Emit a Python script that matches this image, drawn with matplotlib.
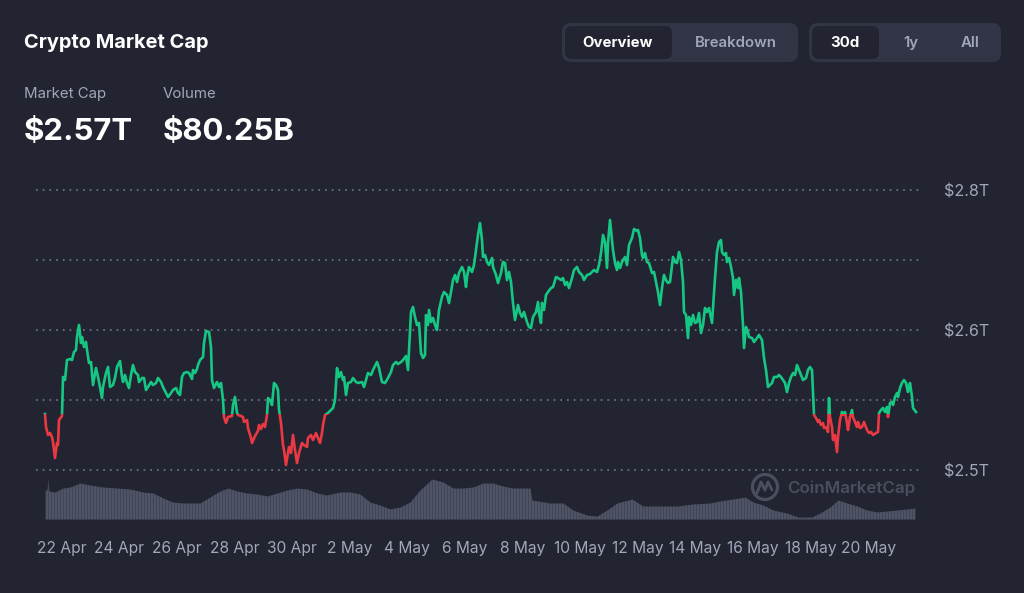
import numpy as np
import matplotlib
matplotlib.use("Agg")
import matplotlib.pyplot as plt
import matplotlib.dates as mdates
from matplotlib.patches import Rectangle, FancyBboxPatch, Arc

plt.rcParams['font.family'] = ['Inter', 'DejaVu Sans']

# ---------------- data ----------------
series_start = np.datetime64('2024-04-21T10:00')

# minutes elapsed since series_start, and total market cap (billions USD)
elapsed_min = [
    0, 50, 150, 250, 350, 400, 500, 600, 650, 700, 850, 900, 1000, 1100, 1250, 1350, 1450, 1550, 1600, 1700,
    1800, 1850, 1950, 2050, 2100, 2200, 2300, 2400, 2550, 2650, 2750, 2850, 2900, 3050, 3150, 3250, 3400, 3500, 3600, 3750,
    3850, 3900, 4000, 4100, 4200, 4300, 4400, 4500, 4650, 4700, 4850, 4950, 5050, 5150, 5300, 5400, 5550, 5650, 5800, 5900,
    6050, 6150, 6300, 6400, 6550, 6650, 6750, 6850, 6950, 7100, 7200, 7250, 7350, 7400, 7500, 7600, 7650, 7750, 7900, 7950,
    8050, 8200, 8300, 8350, 8450, 8600, 8700, 8800, 8900, 8950, 9050, 9150, 9350, 9400, 9500, 9600, 9650, 9800, 9900, 9950,
    10100, 10150, 10300, 10350, 10500, 10650, 10700, 10800, 10900, 11000, 11100, 11150, 11250, 11350, 11450, 11550, 11650, 11700, 11800, 11900,
    11950, 12050, 12150, 12200, 12300, 12400, 12500, 12600, 12700, 12850, 12950, 13100, 13150, 13300, 13400, 13550, 13650, 13750, 13850, 13900,
    14000, 14150, 14250, 14400, 14500, 14600, 14700, 14800, 14900, 14950, 15050, 15150, 15300, 15400, 15550, 15650, 15850, 15950, 16050, 16150,
    16300, 16400, 16600, 16700, 16850, 17000, 17150, 17300, 17400, 17550, 17650, 17800, 17900, 18050, 18150, 18200, 18300, 18400, 18500, 18600,
    18700, 18800, 18900, 19000, 19050, 19150, 19200, 19300, 19400, 19500, 19600, 19700, 19850, 19950, 20100, 20200, 20300, 20400, 20500, 20600,
    20700, 20850, 20950, 21050, 21100, 21200, 21350, 21450, 21550, 21650, 21750, 21850, 21900, 22000, 22100, 22200, 22350, 22400, 22550, 22650,
    22800, 22900, 23000, 23100, 23200, 23300, 23400, 23500, 23650, 23750, 23850, 23950, 24100, 24200, 24300, 24400, 24550, 24650, 24700, 24800,
    24850, 24950, 25050, 25150, 25300, 25400, 25550, 25650, 25800, 25900, 26000, 26100, 26200, 26350, 26450, 26600, 26700, 26850, 26950, 27100,
    27250, 27350, 27450, 27600, 27700, 27800, 27900, 28000, 28100, 28150, 28250, 28350, 28400, 28500, 28600, 28650, 28750, 28850, 29000, 29100,
    29200, 29350, 29450, 29600, 29650, 29750, 29850, 29900, 30000, 30100, 30200, 30350, 30450, 30550, 30650, 30750, 30850, 30950, 31050, 31150,
    31250, 31350, 31400, 31500, 31600, 31700, 31800, 31900, 31950, 32050, 32150, 32200, 32300, 32400, 32500, 32600, 32700, 32800, 32900, 33000,
    33100, 33200, 33350, 33400, 33500, 33600, 33700, 33800, 33850, 33950, 34050, 34100, 34200, 34300, 34400, 34450, 34550, 34650, 34700, 34800,
    34900, 34950, 35050, 35150, 35200, 35350, 35450, 35600, 35700, 35850, 35950, 36050, 36150, 36250, 36350, 36450, 36600, 36700, 36800, 36900,
    37000, 37100, 37200, 37300, 37400, 37500, 37600, 37700, 37800, 37900, 38050, 38150, 38250, 38350, 38400, 38450, 38550, 38650, 38700, 38800,
    38900, 38950, 39050, 39150, 39200, 39250, 39350, 39400, 39500, 39600, 39650, 39750, 39850, 39900, 40000, 40100, 40150, 40250, 40350, 40400,
    40500, 40600, 40650, 40750, 40850, 40950, 41100, 41200, 41300, 41400, 41550, 41650, 41700, 41800, 41900, 42000, 42100, 42150, 42250, 42350,
    42400, 42500, 42600, 42650, 42750, 42850, 42950, 43050, 43150, 43200, 43250, 43350, 43400, 43550,
]
market_cap_b = [
    2556, 2543, 2535, 2537, 2533, 2528, 2512, 2527, 2525, 2550, 2554, 2593, 2590, 2610, 2611, 2610, 2618, 2620, 2633, 2645,
    2627, 2633, 2623, 2628, 2620, 2607, 2608, 2585, 2602, 2593, 2583, 2572, 2583, 2597, 2603, 2583, 2585, 2592, 2603, 2609,
    2593, 2588, 2595, 2587, 2582, 2595, 2605, 2598, 2595, 2588, 2592, 2592, 2580, 2583, 2588, 2585, 2587, 2592, 2588, 2583,
    2577, 2573, 2577, 2580, 2582, 2577, 2575, 2593, 2597, 2598, 2597, 2595, 2591, 2600, 2597, 2601, 2605, 2610, 2613, 2627,
    2639, 2638, 2623, 2590, 2582, 2588, 2583, 2587, 2570, 2553, 2547, 2553, 2554, 2565, 2573, 2557, 2555, 2554, 2553, 2548,
    2550, 2542, 2532, 2527, 2534, 2539, 2545, 2541, 2546, 2543, 2555, 2572, 2570, 2565, 2587, 2585, 2580, 2560, 2547, 2525,
    2520, 2505, 2517, 2523, 2517, 2535, 2520, 2507, 2517, 2527, 2525, 2523, 2532, 2535, 2530, 2537, 2532, 2527, 2537, 2545,
    2555, 2557, 2559, 2562, 2570, 2602, 2593, 2598, 2590, 2593, 2575, 2587, 2588, 2592, 2588, 2587, 2588, 2583, 2590, 2597,
    2595, 2600, 2608, 2602, 2588, 2587, 2592, 2598, 2605, 2608, 2606, 2608, 2610, 2614, 2600, 2620, 2658, 2663, 2653, 2645,
    2647, 2617, 2612, 2615, 2655, 2645, 2660, 2648, 2652, 2645, 2640, 2660, 2673, 2678, 2675, 2667, 2678, 2690, 2695, 2688,
    2697, 2703, 2698, 2683, 2693, 2703, 2698, 2705, 2720, 2735, 2747, 2730, 2713, 2715, 2708, 2705, 2712, 2703, 2695, 2687,
    2697, 2708, 2707, 2690, 2698, 2688, 2667, 2650, 2665, 2657, 2653, 2658, 2648, 2643, 2642, 2653, 2658, 2668, 2657, 2647,
    2667, 2660, 2675, 2678, 2682, 2683, 2693, 2692, 2690, 2692, 2685, 2688, 2682, 2692, 2700, 2703, 2698, 2695, 2690, 2695,
    2696, 2698, 2700, 2698, 2705, 2717, 2735, 2728, 2702, 2727, 2750, 2730, 2720, 2707, 2700, 2708, 2702, 2708, 2713, 2705,
    2725, 2732, 2741, 2739, 2740, 2732, 2715, 2712, 2717, 2708, 2707, 2697, 2698, 2688, 2678, 2665, 2682, 2695, 2690, 2687,
    2688, 2705, 2713, 2708, 2707, 2718, 2710, 2688, 2658, 2655, 2632, 2653, 2645, 2655, 2647, 2648, 2657, 2637, 2645, 2662,
    2658, 2662, 2647, 2662, 2692, 2718, 2728, 2730, 2718, 2715, 2717, 2708, 2712, 2703, 2692, 2675, 2690, 2682, 2692, 2678,
    2645, 2622, 2643, 2638, 2633, 2632, 2628, 2632, 2635, 2630, 2612, 2600, 2583, 2585, 2587, 2593, 2593, 2595, 2593, 2590,
    2587, 2578, 2587, 2593, 2597, 2595, 2605, 2600, 2595, 2590, 2592, 2600, 2603, 2600, 2577, 2555, 2552, 2548, 2550, 2545,
    2547, 2542, 2543, 2538, 2572, 2553, 2543, 2530, 2535, 2518, 2533, 2550, 2558, 2555, 2558, 2547, 2540, 2553, 2560, 2553,
    2548, 2543, 2548, 2542, 2543, 2548, 2540, 2537, 2538, 2535, 2537, 2538, 2557, 2560, 2562, 2558, 2563, 2553, 2567, 2568,
    2565, 2573, 2577, 2573, 2582, 2587, 2590, 2587, 2578, 2583, 2587, 2573, 2562, 2558,
]

# 24h volume profile (billions USD), sampled at these elapsed minutes
volume_min = [
    0, 100, 150, 200, 500, 900, 1250, 1750, 2250, 2900, 3600, 4250, 4900, 5400, 5900, 6400, 6900, 7750, 8250, 8750,
    9150, 9600, 10100, 10600, 11100, 11600, 12100, 12600, 13100, 13600, 14100, 14750, 15250, 15750, 16250, 16750, 17250, 17750, 18250, 18750,
    19350, 19900, 20400, 20900, 21400, 21900, 22400, 22900, 23400, 24250, 24350, 25250, 25900, 26400, 27100, 27600, 28100, 28600, 29350, 29900,
    30750, 31600, 32400, 33250, 33750, 34400, 35000, 35400, 35900, 36400, 37100, 37650, 38350, 38750, 39250, 39650, 40100, 40600, 41100, 41600,
    42100, 42600, 43100, 43500,
]
volume_b = [
    58, 58, 82, 56, 54, 62, 64, 72, 68, 64, 62, 60, 54, 52, 42, 34, 32, 32, 44, 56,
    62, 56, 52, 50, 46, 52, 58, 62, 60, 52, 48, 54, 54, 50, 34, 28, 20, 24, 34, 58,
    80, 74, 62, 62, 64, 72, 72, 66, 62, 62, 38, 32, 32, 18, 8, 6, 18, 32, 40, 26,
    26, 26, 30, 32, 36, 40, 44, 34, 28, 18, 12, 4, 4, 12, 24, 38, 32, 26, 18, 14,
    16, 18, 20, 22,
]

tick_labels = ["22 Apr", "24 Apr", "26 Apr", "28 Apr", "30 Apr", "2 May", "4 May", "6 May",
               "8 May", "10 May", "12 May", "14 May", "16 May", "18 May", "20 May"]
first_tick_day = np.datetime64('2024-04-22')

y_ticks = [2500, 2570, 2640, 2710, 2780]
y_tick_labels = ["$2.5T", "", "$2.6T", "", "$2.8T"]

title = "Crypto Market Cap"
stats = [("Market Cap", "$2.57T"), ("Volume", "$80.25B")]

# ---------------- style ----------------
BG = "#222531"
GREEN = "#16c784"
RED = "#ea3943"
GREY_TXT = "#a1a7bb"
VOL = "#4e5366"
WM = "#4a4f60"

W, H = 1024, 593
fig = plt.figure(figsize=(W / 100, H / 100), dpi=100, facecolor=BG)

def px_rect(l, t, r, b):
    return [l / W, 1 - b / H, (r - l) / W, (b - t) / H]

rect = px_rect(36, 180, 920, 519)

def to_num(mins):
    return mdates.date2num(series_start + np.array(mins, dtype='timedelta64[m]'))

t_price = to_num(elapsed_min)
t_vol = to_num(volume_min)
x_lo, x_hi = to_num([-450, 43750])

# volume axes (below)
axv = fig.add_axes(rect, facecolor="none")
axv.fill_between(t_vol, 0, volume_b, color=VOL, lw=0)
# subtle bar texture
stripe_t = to_num(np.arange(0, 43550, 150))
axv.vlines(stripe_t, 0, 100, color=BG, lw=0.6, alpha=0.35)
axv.set_xlim(x_lo, x_hi)
axv.set_ylim(0, 678)
axv.axis("off")

# price axes (on top)
ax = fig.add_axes(rect, facecolor="none", zorder=2)
base = market_cap_b[0]
lg, = ax.plot(t_price, market_cap_b, color=GREEN, lw=1.9, solid_joinstyle="round")
lr, = ax.plot(t_price, market_cap_b, color=RED, lw=1.9, solid_joinstyle="round")
clip_up = Rectangle((x_lo, base), x_hi - x_lo, 1000, transform=ax.transData)
clip_dn = Rectangle((x_lo, base - 1000), x_hi - x_lo, 1000, transform=ax.transData)
lg.set_clip_path(clip_up)
lr.set_clip_path(clip_dn)

ax.set_xlim(x_lo, x_hi)
ax.set_ylim(2451, 2790)
for yv in y_ticks:
    ax.axhline(yv, color="#7a8096", lw=1.1, ls=(0, (1.1, 3.3)), zorder=0)

tick_days = first_tick_day + np.arange(len(tick_labels)) * np.timedelta64(2, 'D')
ax.set_xticks(mdates.date2num(tick_days))
ax.set_xticklabels(tick_labels)
ax.yaxis.tick_right()
ax.set_yticks(y_ticks)
ax.set_yticklabels(y_tick_labels)
ax.tick_params(axis="x", length=0, pad=16, labelsize=11.2, labelcolor=GREY_TXT)
ax.tick_params(axis="y", length=0, pad=17, labelsize=11.6, labelcolor=GREY_TXT)
for lab in ax.get_yticklabels():
    lab.set_horizontalalignment("left")
for s in ax.spines.values():
    s.set_visible(False)

# ---------------- UI overlay ----------------
ui = fig.add_axes([0, 0, 1, 1], facecolor="none", zorder=5)
ui.set_xlim(0, W)
ui.set_ylim(H, 0)
ui.axis("off")

ui.text(24, 43, title, color="white", fontsize=14.4, fontweight="bold", va="center", ha="left")
for (lab, val), x0 in zip(stats, [24, 163]):
    ui.text(x0, 94, lab, color=GREY_TXT, fontsize=10.8, va="center", ha="left")
    ui.text(x0, 132, val, color="white", fontsize=22.4, fontweight="bold", va="center", ha="left")

def rbox(l, t, r, b, color, rad):
    ui.add_patch(FancyBboxPatch((l, t), r - l, b - t,
                                boxstyle=f"round,pad=0,rounding_size={rad}",
                                facecolor=color, edgecolor="none"))

rbox(562, 23, 798, 62, "#323546", 9)
rbox(565, 26, 672, 59, BG, 7)
rbox(809, 23, 1001, 62, "#323546", 9)
rbox(812, 26, 879, 59, BG, 7)
ui.text(618, 43, "Overview", color="white", fontsize=10.8, fontweight="bold", ha="center", va="center")
ui.text(736, 43, "Breakdown", color=GREY_TXT, fontsize=10.8, fontweight="semibold", ha="center", va="center")
ui.text(845, 43, "30d", color="white", fontsize=10.8, fontweight="bold", ha="center", va="center")
ui.text(911, 43, "1y", color=GREY_TXT, fontsize=10.8, fontweight="semibold", ha="center", va="center")
ui.text(970, 43, "All", color=GREY_TXT, fontsize=10.8, fontweight="semibold", ha="center", va="center")

# watermark
ui.add_patch(Arc((765, 487), 25, 25, theta1=-60, theta2=300, color=WM, lw=2.3))
ui.plot([757, 761, 765, 768, 772], [493, 482, 490, 482, 490], color=WM, lw=2.1,
        solid_capstyle="round", solid_joinstyle="round")
ui.text(787, 488, "CoinMarketCap", color=WM, fontsize=12.2, fontweight="semibold", ha="left", va="center")

fig.savefig("out.png", dpi=100, facecolor=BG)
